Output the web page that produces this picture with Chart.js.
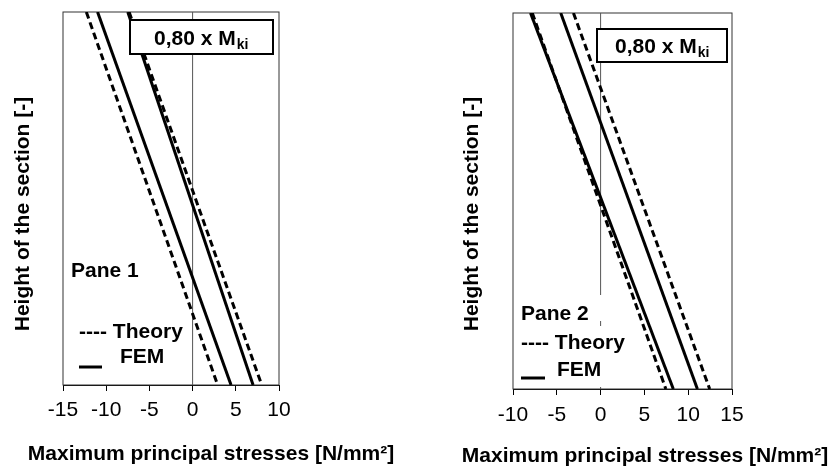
<!DOCTYPE html>
<html>
<head>
<meta charset="utf-8">
<script src="https://cdn.jsdelivr.net/npm/chart.js@4"></script>
<style>
  html, body { margin: 0; padding: 0; background: #fff; }
  #wrap { position: relative; width: 840px; height: 466px; }
  .pane { position: absolute; top: 0; width: 420px; height: 466px; }
</style>
</head>
<body>
<div id="wrap">
  <div class="pane" style="left:0"><canvas id="c1" width="420" height="466"></canvas></div>
  <div class="pane" style="left:420px"><canvas id="c2" width="420" height="466"></canvas></div>
</div>
<script>
// Height of the section (normalised, 0 = bottom, 1 = top)
const heights = [1, 0];

// Pane 1 stresses [N/mm²] at top / bottom of section
const pane1TheoryA = [-12.3, 2.9];
const pane1FemA    = [-11.0, 4.45];
const pane1FemB    = [-7.5, 7.0];
const pane1TheoryB = [-7.35, 8.0];

// Pane 2 stresses [N/mm²] at top / bottom of section
const pane2FemA    = [-8.0, 8.3];
const pane2TheoryA = [-7.8, 7.45];
const pane2FemB    = [-4.55, 11.05];
const pane2TheoryB = [-3.1, 12.45];

const pane1Ticks = [-15, -10, -5, 0, 5, 10];
const pane2Ticks = [-10, -5, 0, 5, 10, 15];

const xTitle = 'Maximum principal stresses [N/mm²]';
const yTitle = 'Height of the section [-]';
const boxMain = '0,80 x M';
const boxSub = 'ki';
const legendTheory = '---- Theory';
const legendFem = 'FEM';

const FONT = '"Liberation Sans", Arial, sans-serif';

function pts(vals) {
  return vals.map((v, i) => ({ x: v, y: heights[i] }));
}
function ds(vals, dashed) {
  return {
    data: pts(vals),
    showLine: true,
    borderColor: '#000',
    borderWidth: 3,
    borderDash: dashed ? [7, 4] : [],
    pointRadius: 0,
    fill: false,
    tension: 0
  };
}

function makeChart(id, cfg) {
  const overlay = {
    id: 'overlay' + id,
    beforeDatasetsDraw(chart) {
      const { ctx, chartArea: a, scales: { x } } = chart;
      ctx.save();
      // frame
      ctx.strokeStyle = '#333';
      ctx.lineWidth = 1;
      ctx.strokeRect(a.left, a.top, a.right - a.left, a.bottom - a.top);
      // zero line
      const zx = x.getPixelForValue(0);
      ctx.strokeStyle = '#555';
      ctx.beginPath();
      ctx.moveTo(zx, a.top);
      ctx.lineTo(zx, a.bottom);
      ctx.stroke();
      ctx.restore();
    },
    afterDatasetsDraw(chart) {
      const { ctx } = chart;
      ctx.save();
      // white backgrounds for legend blocks
      ctx.fillStyle = '#fff';
      (cfg.bgs || []).forEach(r => ctx.fillRect(r[0], r[1], r[2], r[3]));
      // M_ki box
      const b = cfg.box;
      ctx.fillStyle = '#fff';
      ctx.fillRect(b.x, b.y, b.w, b.h);
      ctx.strokeStyle = '#000';
      ctx.lineWidth = 2;
      ctx.strokeRect(b.x, b.y, b.w, b.h);
      ctx.fillStyle = '#000';
      ctx.textAlign = 'left';
      ctx.textBaseline = 'alphabetic';
      ctx.font = 'bold 21px ' + FONT;
      ctx.fillText(boxMain, b.tx, b.ty);
      const w = ctx.measureText(boxMain).width;
      ctx.font = 'bold 14px ' + FONT;
      ctx.fillText(boxSub, b.tx + w + 1, b.ty + 4);
      // pane label & legend
      ctx.font = 'bold 21px ' + FONT;
      const L = cfg.legend;
      ctx.fillText(cfg.paneLabel, L.px, L.py);
      ctx.fillText(legendTheory, L.tx, L.ty);
      ctx.fillText(legendFem, L.fx, L.fy);
      ctx.lineWidth = 3;
      ctx.beginPath();
      ctx.moveTo(L.lx1, L.ly);
      ctx.lineTo(L.lx2, L.ly);
      ctx.stroke();
      // axis titles
      ctx.textAlign = 'center';
      ctx.fillText(xTitle, cfg.xt.x, cfg.xt.y);
      ctx.save();
      ctx.translate(cfg.yt.x, cfg.yt.y);
      ctx.rotate(-Math.PI / 2);
      ctx.fillText(yTitle, 0, 0);
      ctx.restore();
      ctx.restore();
    }
  };

  return new Chart(document.getElementById(id), {
    type: 'scatter',
    data: { datasets: cfg.datasets },
    options: {
      responsive: false,
      animation: false,
      events: [],
      layout: { padding: cfg.padding },
      plugins: { legend: { display: false }, tooltip: { enabled: false } },
      scales: {
        x: {
          type: 'linear',
          min: cfg.ticks[0],
          max: cfg.ticks[cfg.ticks.length - 1],
          afterBuildTicks(scale) { scale.ticks = cfg.ticks.map(v => ({ value: v })); },
          afterFit(scale) { scale.height = cfg.xh; },
          ticks: { color: '#000', font: { family: FONT, size: 21 }, padding: cfg.tickPad, maxRotation: 0, autoSkip: false },
          grid: { drawOnChartArea: false, color: '#000', tickLength: 6, lineWidth: 1 },
          border: { display: true, color: '#000', width: 1 }
        },
        y: { display: false, min: 0, max: 1 }
      }
    },
    plugins: [overlay]
  });
}

makeChart('c1', {
  datasets: [ds(pane1TheoryA, true), ds(pane1FemA, false), ds(pane1FemB, false), ds(pane1TheoryB, true)],
  ticks: pane1Ticks,
  padding: { left: 63, right: 141, top: 12, bottom: 0 },
  xh: 81,
  tickPad: 7,
  box: { x: 130, y: 20, w: 143, h: 34, tx: 154, ty: 45 },
  paneLabel: 'Pane 1',
  legend: { px: 71, py: 277, tx: 79, ty: 338, fx: 120, fy: 363, lx1: 79, lx2: 102, ly: 367 },
  bgs: [],
  xt: { x: 211, y: 460 },
  yt: { x: 29, y: 214 }
});

makeChart('c2', {
  datasets: [ds(pane2FemA, false), ds(pane2TheoryA, true), ds(pane2FemB, false), ds(pane2TheoryB, true)],
  ticks: pane2Ticks,
  padding: { left: 93, right: 108, top: 13, bottom: 0 },
  xh: 77,
  tickPad: 8,
  box: { x: 177, y: 29, w: 130, h: 33, tx: 195, ty: 53 },
  paneLabel: 'Pane 2',
  legend: { px: 101, py: 320, tx: 101, ty: 349, fx: 137, fy: 376, lx1: 101, lx2: 125, ly: 378 },
  bgs: [[95, 295, 87, 26], [95, 326, 87, 61]],
  xt: { x: 225, y: 462 },
  yt: { x: 58, y: 214 }
});
</script>
</body>
</html>
